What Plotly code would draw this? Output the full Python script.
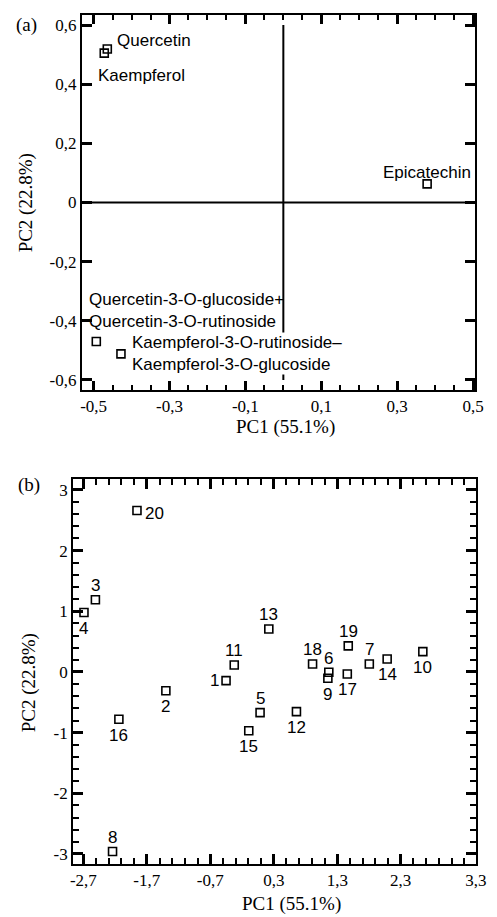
import plotly.graph_objects as go

# ---------------- data ----------------
# (a) loadings
compounds = ["Quercetin", "Kaempferol", "Epicatechin",
             "Quercetin-3-O-glucoside+<br>Quercetin-3-O-rutinoside",
             "Kaempferol-3-O-rutinoside–<br>Kaempferol-3-O-glucoside"]
load_pc1 = [-0.464, -0.472, 0.379, -0.493, -0.428]
load_pc2 = [0.519, 0.505, 0.063, -0.470, -0.512]

# (b) scores
samples = [str(i) for i in range(1, 21)]
score_pc1 = [-0.452, -1.40, -2.51, -2.69, 0.084, 1.167, 1.805, -2.24, 1.152, 2.648,
             -0.323, 0.657, 0.222, 2.086, -0.094, -2.14, 1.458, 0.911, 1.473, -1.855]
score_pc2 = [-0.143, -0.31, 1.19, 0.98, -0.67, -0.005, 0.132, -2.96, -0.104, 0.335,
             0.115, -0.654, 0.709, 0.214, -0.97, -0.78, -0.033, 0.132, 0.43, 2.66]

a_xtickvals = [-0.5, -0.3, -0.1, 0.1, 0.3, 0.5]
a_xticktext = ["-0,5", "-0,3", "-0,1", "0,1", "0,3", "0,5"]
a_ytickvals = [-0.6, -0.4, -0.2, 0, 0.2, 0.4, 0.6]
a_yticktext = ["-0,6", "-0,4", "-0,2", "0", "0,2", "0,4", "0,6"]
b_xtickvals = [-2.7, -1.7, -0.7, 0.3, 1.3, 2.3, 3.485]
b_xticktext = ["-2,7", "-1,7", "-0,7", "0,3", "1,3", "2,3", "3,3"]
b_ytickvals = [-3, -2, -1, 0, 1, 2, 3]
b_yticktext = ["-3", "-2", "-1", "0", "1", "2", "3"]

# ---------------- styling ----------------
W, H = 497, 917
SANS = "Liberation Sans, Arial, sans-serif"
SERIF = "Liberation Serif, Times New Roman, serif"
TICK_COLOR = "#000000"


def px(x):
    return x / W


def py(y):
    return 1 - y / H


# label placement (xanchor, xshift, yshift) for (a)
a_label_place = [("left", 9, 9), ("left", -7, -22), ("center", 0, 11),
                 ("left", -8, 31), ("left", 10, 0)]
a_label_bg = [None, None, None, None, "white"]
# label placement keyword for (b)
b_label_place = ["left", "below", "above", "below", "above", "above", "above", "above",
                 "below", "below", "above", "below", "above", "below", "below", "below",
                 "below", "above", "above", "right"]
place_map = {"above": ("center", 0, 14), "below": ("center", 0, -16),
             "left": ("right", -5, 0), "right": ("left", 6, -3)}

marker = dict(symbol="square-open", size=8, color="black", line=dict(width=1.6, color="black"))

fig = go.Figure()
fig.add_trace(go.Scatter(x=load_pc1, y=load_pc2, mode="markers", marker=marker,
                         xaxis="x", yaxis="y", hoverinfo="skip", showlegend=False))
fig.add_trace(go.Scatter(x=score_pc1, y=score_pc2, mode="markers", marker=marker,
                         xaxis="x2", yaxis="y2", hoverinfo="skip", showlegend=False))

annotations = []
for name, x, y, (xa, xs, ys), bg in zip(compounds, load_pc1, load_pc2, a_label_place, a_label_bg):
    annotations.append(dict(x=x, y=y, xref="x", yref="y", text=name, showarrow=False,
                            xanchor=xa, yanchor="middle", xshift=xs, yshift=ys, align="left",
                            font=dict(family=SANS, size=17, color="black"),
                            bgcolor=bg if bg else "rgba(0,0,0,0)", borderpad=0))
for name, x, y, pl in zip(samples, score_pc1, score_pc2, b_label_place):
    xa, xs, ys = place_map[pl]
    annotations.append(dict(x=x, y=y, xref="x2", yref="y2", text=name, showarrow=False,
                            xanchor=xa, yanchor="middle", xshift=xs, yshift=ys,
                            font=dict(family=SANS, size=17, color="black")))

title_font = dict(family=SERIF, size=19, color="black")
for txt, x, y, ang in [("PC1 (55.1%)", 290, 427, 0), ("PC1 (55.1%)", 296, 904, 0),
                       ("PC2 (22.8%)", 24, 203, -90), ("PC2 (22.8%)", 27, 683, -90),
                       ("(a)", 24, 25, 0), ("(b)", 26.5, 485, 0)]:
    annotations.append(dict(x=px(x), y=py(y), xref="paper", yref="paper", text=txt,
                            showarrow=False, xanchor="center", yanchor="middle",
                            textangle=ang, font=title_font))

shapes = [
    dict(type="line", xref="x", yref="y", x0=-0.531, x1=0.495, y0=0, y1=0,
         line=dict(color="black", width=2)),
    dict(type="line", xref="x", yref="y", x0=0, x1=0, y0=-0.6, y1=0.6,
         line=dict(color="black", width=2)),
]

tickfont = dict(family=SERIF, size=17, color="black")
common = dict(showline=True, linecolor="black", linewidth=2, mirror="allticks",
              ticks="inside", tickcolor=TICK_COLOR, tickwidth=2.5, showgrid=False,
              zeroline=False, tickfont=tickfont, tickmode="array", fixedrange=True)
minor_style = dict(tickmode="linear", ticks="inside", tickcolor=TICK_COLOR, tickwidth=2,
                   showgrid=False)

A_X = [-0.531, 0.506]
A_Y = [-0.634, 0.634]
B_X = [-2.861, 3.49]
B_Y = [-3.165, 3.18]

fig.update_layout(
    width=W, height=H, margin=dict(l=0, r=0, t=0, b=0),
    paper_bgcolor="white", plot_bgcolor="white", showlegend=False,
    xaxis=dict(domain=[px(81), px(485)], range=A_X, anchor="y",
               tickvals=a_xtickvals, ticktext=a_xticktext, ticklen=9,
               minor=dict(tick0=-0.5, dtick=0.05, ticklen=5, **minor_style), **common),
    yaxis=dict(domain=[py(390), py(15)], range=A_Y, anchor="x",
               tickvals=a_ytickvals, ticktext=a_yticktext, ticklen=10, **common),
    xaxis2=dict(domain=[px(72), px(486)], range=B_X, anchor="y2",
                tickvals=b_xtickvals, ticktext=b_xticktext, ticklen=10,
                minor=dict(tick0=-2.7, dtick=0.2, ticklen=6, **minor_style), **common),
    yaxis2=dict(domain=[py(864), py(479)], range=B_Y, anchor="x2",
                tickvals=b_ytickvals, ticktext=b_yticktext, ticklen=10,
                minor=dict(tick0=-3, dtick=0.2, ticklen=6, **minor_style), **common),
    annotations=annotations, shapes=shapes,
)

fig.write_html("out.html", config={"displayModeBar": False},
               post_script="document.body.style.margin='0px';document.body.style.overflow='hidden';")
